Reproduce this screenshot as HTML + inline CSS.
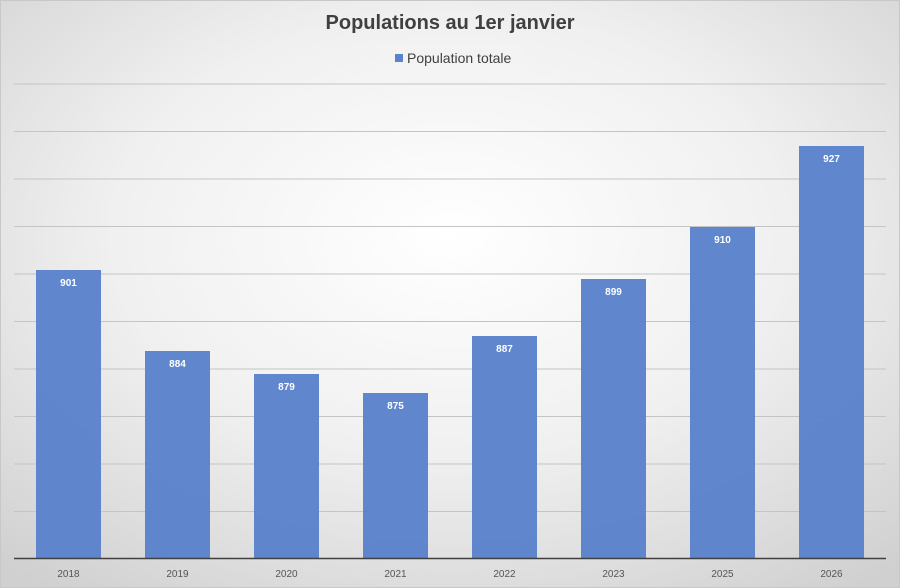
<!DOCTYPE html>
<html><head><style>body{margin:0}svg{display:block}text{font-family:"Liberation Sans",sans-serif}</style></head>
<body>
<svg width="900" height="588" xmlns="http://www.w3.org/2000/svg">
<defs><radialGradient id="g" cx="50%" cy="40%" r="75%"><stop offset="0" stop-color="#ffffff"/><stop offset="0.5" stop-color="#f0f0f0"/><stop offset="1" stop-color="#d0d0d0"/></radialGradient></defs>
<rect x="0.5" y="0.5" width="899" height="587" fill="url(#g)" stroke="#c8c8c8"/>
<text x="450" y="29" text-anchor="middle" font-size="20" font-weight="bold" fill="#404040">Populations au 1er janvier</text>
<rect x="378" y="45" width="144" height="25" fill="#f2f2f2" opacity="0.8"/>
<rect x="395" y="54" width="8" height="8" fill="#5b83cc"/>
<text x="407" y="63" font-size="14" fill="#404040">Population totale</text>
<g stroke="#c4c4c4" stroke-width="1">
<line x1="14" x2="886" y1="84" y2="84"/><line x1="14" x2="886" y1="131.5" y2="131.5"/><line x1="14" x2="886" y1="179" y2="179"/><line x1="14" x2="886" y1="226.5" y2="226.5"/><line x1="14" x2="886" y1="274" y2="274"/><line x1="14" x2="886" y1="321.5" y2="321.5"/><line x1="14" x2="886" y1="369" y2="369"/><line x1="14" x2="886" y1="416.5" y2="416.5"/><line x1="14" x2="886" y1="464" y2="464"/><line x1="14" x2="886" y1="511.5" y2="511.5"/>
</g>
<g fill="#5b83cc" fill-opacity="0.97">
<rect x="36" y="270" width="65" height="288"/>
<rect x="145" y="351" width="65" height="207"/>
<rect x="254" y="374" width="65" height="184"/>
<rect x="363" y="393" width="65" height="165"/>
<rect x="472" y="336" width="65" height="222"/>
<rect x="581" y="279" width="65" height="279"/>
<rect x="690" y="227" width="65" height="331"/>
<rect x="799" y="146" width="65" height="412"/>
</g>
<line x1="14" x2="886" y1="558.5" y2="558.5" stroke="#404040" stroke-width="1.5"/>
<g font-size="10" font-weight="bold" fill="#fff" text-anchor="middle">
<text x="68.5" y="286">901</text><text x="177.5" y="367">884</text><text x="286.5" y="390">879</text><text x="395.5" y="409">875</text><text x="504.5" y="352">887</text><text x="613.5" y="295">899</text><text x="722.5" y="243">910</text><text x="831.5" y="162">927</text>
</g>
<g font-size="10" fill="#555" text-anchor="middle">
<text x="68.5" y="577">2018</text><text x="177.5" y="577">2019</text><text x="286.5" y="577">2020</text><text x="395.5" y="577">2021</text><text x="504.5" y="577">2022</text><text x="613.5" y="577">2023</text><text x="722.5" y="577">2025</text><text x="831.5" y="577">2026</text>
</g>
</svg>
</body></html>
